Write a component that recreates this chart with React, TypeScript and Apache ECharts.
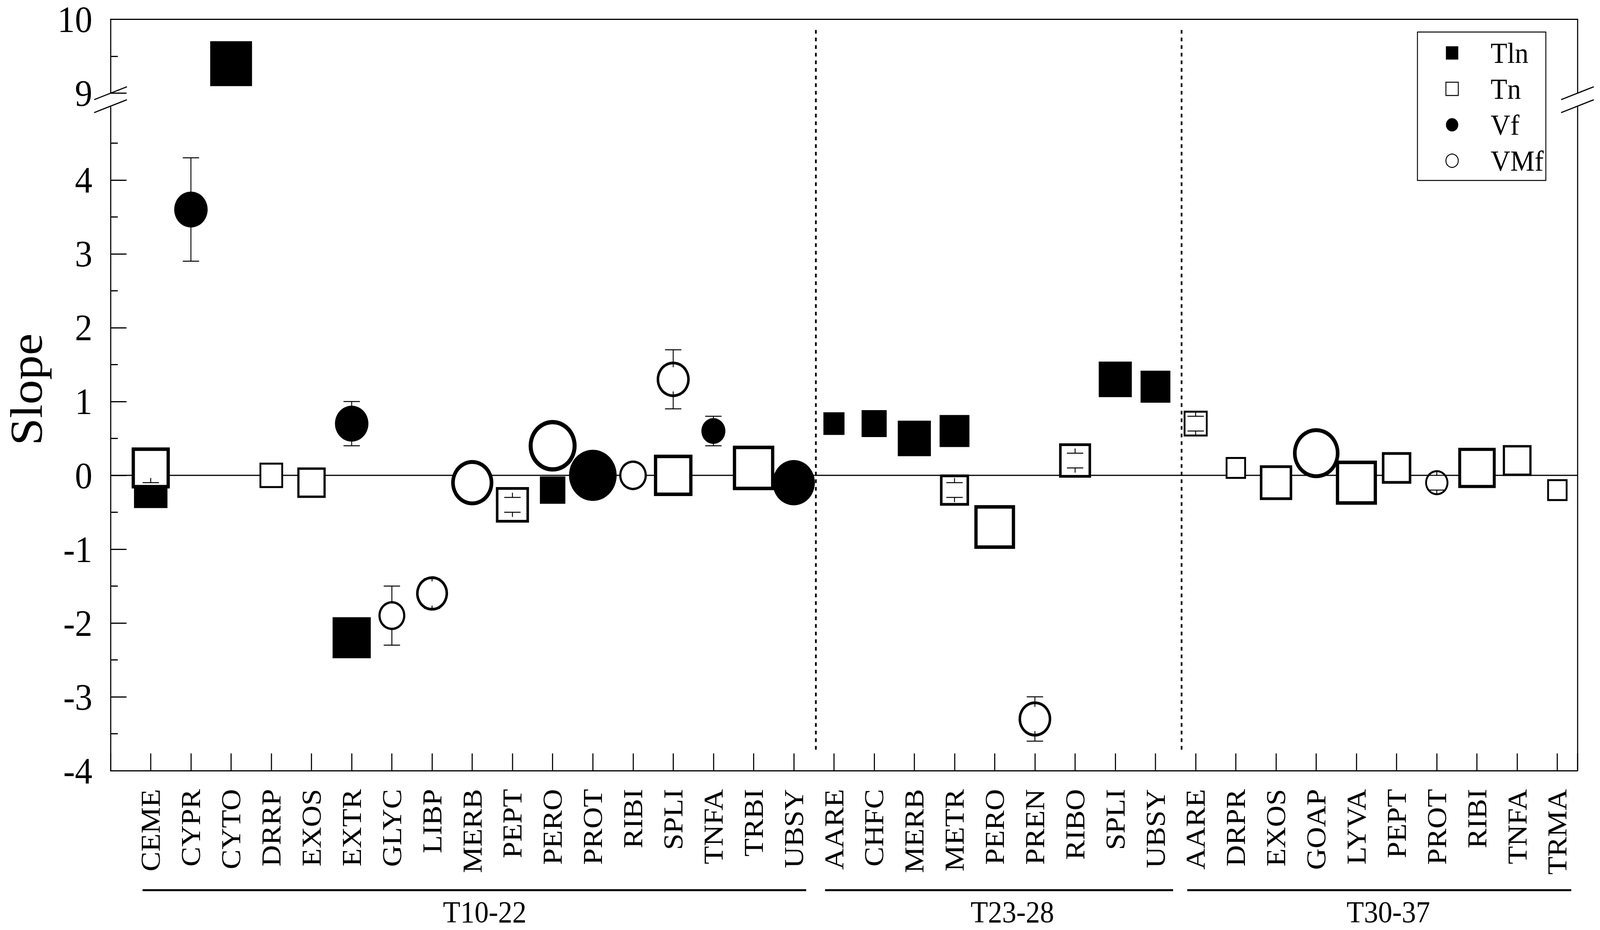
import React, { useEffect, useRef, useState } from 'react';
import * as echarts from 'echarts';

// ---------------- data ----------------
const N = null;

const CATEGORIES = [
  // T10-22
  'CEME', 'CYPR', 'CYTO', 'DRRP', 'EXOS', 'EXTR', 'GLYC', 'LIBP', 'MERB', 'PEPT', 'PERO', 'PROT', 'RIBI', 'SPLI', 'TNFA', 'TRBI', 'UBSY',
  // T23-28
  'AARE', 'CHFC', 'MERB', 'METR', 'PERO', 'PREN', 'RIBO', 'SPLI', 'UBSY',
  // T30-37
  'AARE', 'DRPR', 'EXOS', 'GOAP', 'LYVA', 'PEPT', 'PROT', 'RIBI', 'TNFA', 'TRMA',
];

const GROUP_NAMES = ['T10-22', 'T23-28', 'T30-37'];
const SEPARATORS = [16.55, 25.65];

// Tln (filled squares)
const TLN_SLOPE = [
  -0.2, N, 9.4, N, N, -2.2, N, N, N, N, -0.2, N, N, N, N, N, N,
  0.7, 0.7, 0.5, 0.6, N, N, N, 1.3, 1.2,
  N, N, N, N, N, N, N, N, N, N,
];
const TLN_SIZE = [
  92, N, 115, N, N, 105, N, N, N, N, 70, N, N, N, N, N, N,
  58, 69, 91, 82, N, N, N, 91, 82,
  N, N, N, N, N, N, N, N, N, N,
];
const TLN_ERR = [
  0.1, N, N, N, N, N, N, N, N, N, N, N, N, N, N, N, N,
  N, N, N, N, N, N, N, N, N,
  N, N, N, N, N, N, N, N, N, N,
];

// Tn (open squares)
const TN_SLOPE = [
  0.1, N, N, 0.0, -0.1, N, N, N, N, -0.4, N, N, N, 0.0, N, 0.1, N,
  N, N, N, -0.2, -0.7, N, 0.2, N, N,
  0.7, 0.1, -0.1, N, -0.1, 0.1, N, 0.1, 0.2, -0.2,
];
const TN_SIZE = [
  105, N, N, 65, 78, N, N, N, N, 91, N, N, N, 106, N, 114, N,
  N, N, N, 80, 112, N, 88, N, N,
  66, 56, 89, N, 113, 81, N, 103, 79, 56,
];
const TN_ERR = [
  N, N, N, N, N, N, N, N, N, 0.1, N, N, N, N, N, N, N,
  N, N, N, 0.1, N, N, 0.1, N, N,
  0.1, N, N, N, N, N, N, N, N, N,
];

// Vf (filled circles)
const VF_SLOPE = [
  N, 3.6, N, N, N, 0.7, N, N, N, N, N, 0.0, N, N, 0.6, N, -0.1,
  N, N, N, N, N, N, N, N, N,
  N, N, N, N, N, N, N, N, N, N,
];
const VF_SIZE = [
  N, 92, N, N, N, 92, N, N, N, N, N, 131, N, N, 66, N, 116,
  N, N, N, N, N, N, N, N, N,
  N, N, N, N, N, N, N, N, N, N,
];
const VF_ERR = [
  N, 0.7, N, N, N, 0.3, N, N, N, N, N, N, N, N, 0.2, N, N,
  N, N, N, N, N, N, N, N, N,
  N, N, N, N, N, N, N, N, N, N,
];

// VMf (open circles)
const VMF_SLOPE = [
  N, N, N, N, N, N, -1.9, -1.6, -0.1, N, 0.4, N, 0.0, 1.3, N, N, N,
  N, N, N, N, N, -3.3, N, N, N,
  N, N, N, 0.3, N, N, -0.1, N, N, N,
];
const VMF_SIZE = [
  N, N, N, N, N, N, 74, 88, 116, N, 132, N, 76, 91, N, N, N,
  N, N, N, N, N, 90, N, N, N,
  N, N, N, 128, N, N, 64, N, N, N,
];
const VMF_ERR = [
  N, N, N, N, N, N, 0.4, 0.2, N, N, N, N, N, 0.4, N, N, N,
  N, N, N, N, N, 0.3, N, N, N,
  N, N, N, N, N, N, 0.1, N, N, N,
];

// ---------------- layout ----------------
const W = 4400;
const H = 2381;
const LEFT = 304;
const RIGHT_EDGE = 4338;
const TOP = 49.3;
const Y9 = 238.6;
const Y5 = 271.8;
const BOTTOM = 1973;
const FONT = "'Liberation Serif', 'Times New Roman', serif";
const BLACK = '#000';

const BREAK_Y_TOP = 9;
const X_MIN = -1;
const X_MAX = 35.5;

function borderFor(outer: number) {
  return Math.max(5, Math.round(outer * 0.082));
}

function filledPoints(values: (number | null)[], sizes: (number | null)[], top: boolean) {
  const out: any[] = [];
  values.forEach((v, i) => {
    if (v == null) return;
    if (top !== v >= BREAK_Y_TOP) return;
    out.push({ value: [i, v], symbolSize: sizes[i] as number });
  });
  return out;
}

function openPoints(values: (number | null)[], sizes: (number | null)[]) {
  const out: any[] = [];
  values.forEach((v, i) => {
    if (v == null) return;
    const outer = sizes[i] as number;
    const bw = borderFor(outer);
    out.push({ value: [i, v], symbolSize: outer - bw, itemStyle: { borderWidth: bw } });
  });
  return out;
}

function errPoints() {
  const out: number[][] = [];
  const sets: [(number | null)[], (number | null)[]][] = [
    [TLN_SLOPE, TLN_ERR],
    [TN_SLOPE, TN_ERR],
    [VF_SLOPE, VF_ERR],
    [VMF_SLOPE, VMF_ERR],
  ];
  sets.forEach(([vals, errs]) => {
    vals.forEach((v, i) => {
      const e = errs[i];
      if (v == null || e == null) return;
      out.push([i, v, e]);
    });
  });
  return out;
}

const axisLineStyle = { color: BLACK, width: 3 };

function buildOption(): any {
  return {
    animation: false,
    backgroundColor: '#fff',
    textStyle: { fontFamily: FONT, color: BLACK },
    grid: [
      { left: LEFT, right: W - RIGHT_EDGE, top: TOP, height: Y9 - TOP, outerBoundsMode: 'none', containLabel: false },
      { left: LEFT, right: W - RIGHT_EDGE, top: Y5, bottom: H - BOTTOM, outerBoundsMode: 'none', containLabel: false },
    ],
    xAxis: [
      {
        gridIndex: 0, type: 'value', min: X_MIN, max: X_MAX, position: 'top',
        axisLine: { show: true, onZero: false, lineStyle: axisLineStyle },
        axisTick: { show: false }, axisLabel: { show: false }, splitLine: { show: false },
      },
      {
        gridIndex: 1, type: 'value', min: X_MIN, max: X_MAX, interval: 1, position: 'bottom',
        axisLine: { show: true, onZero: false, lineStyle: axisLineStyle },
        axisTick: { show: true, inside: true, length: 44, lineStyle: { color: BLACK, width: 3 } },
        axisLabel: {
          show: true, rotate: 90, margin: 47, fontSize: 76, fontFamily: FONT, color: BLACK,
          formatter: (v: number) => (Number.isInteger(v) && v >= 0 && v < CATEGORIES.length ? CATEGORIES[v] : ''),
        },
        splitLine: { show: false },
      },
    ],
    yAxis: [
      {
        gridIndex: 0, type: 'value', min: 9, max: 10, interval: 1, position: 'left',
        axisLine: { show: true, onZero: false, lineStyle: axisLineStyle },
        axisTick: { show: true, inside: true, length: 44, lineStyle: { color: BLACK, width: 3 } },
        minorTick: { show: true, splitNumber: 2, length: 20, lineStyle: { color: BLACK, width: 3 } },
        axisLabel: { show: true, margin: 50, fontSize: 96, fontFamily: FONT, color: BLACK },
        splitLine: { show: false },
      },
      {
        gridIndex: 0, type: 'value', min: 9, max: 10, position: 'right',
        axisLine: { show: true, onZero: false, lineStyle: axisLineStyle },
        axisTick: { show: false }, axisLabel: { show: false }, splitLine: { show: false },
      },
      {
        gridIndex: 1, type: 'value', min: -4, max: 5, interval: 1, position: 'left',
        axisLine: { show: true, onZero: false, lineStyle: axisLineStyle },
        axisTick: { show: true, inside: true, length: 44, lineStyle: { color: BLACK, width: 3 } },
        minorTick: { show: true, splitNumber: 2, length: 20, lineStyle: { color: BLACK, width: 3 } },
        axisLabel: {
          show: true, margin: 50, fontSize: 96, fontFamily: FONT, color: BLACK,
          formatter: (v: number) => (v >= 5 ? '' : String(v)),
        },
        splitLine: { show: false },
      },
      {
        gridIndex: 1, type: 'value', min: -4, max: 5, position: 'right',
        axisLine: { show: true, onZero: false, lineStyle: axisLineStyle },
        axisTick: { show: false }, axisLabel: { show: false }, splitLine: { show: false },
      },
    ],
    legend: {
      show: true,
      orient: 'vertical',
      left: 3898,
      top: 82,
      itemWidth: 34,
      itemHeight: 34,
      itemGap: 17,
      padding: [16, 6, 13, 77],
      borderColor: BLACK,
      borderWidth: 2.5,
      selectedMode: false,
      textStyle: { fontSize: 75, fontFamily: FONT, color: BLACK, lineHeight: 75, padding: [0, 0, 0, 84] },
      data: [
        { name: 'Tln', icon: 'rect', itemStyle: { color: BLACK, borderWidth: 0, opacity: 1 } },
        { name: 'Tn', icon: 'rect', itemStyle: { color: '#fff', borderColor: BLACK, borderWidth: 2.5, opacity: 1 } },
        { name: 'Vf', icon: 'circle', itemStyle: { color: BLACK, borderWidth: 0, opacity: 1 } },
        { name: 'VMf', icon: 'circle', itemStyle: { color: '#fff', borderColor: BLACK, borderWidth: 2.5, opacity: 1 } },
      ],
    },
    series: [
      {
        name: 'zero', type: 'line', xAxisIndex: 1, yAxisIndex: 2, z: 1, silent: true,
        data: [[X_MIN, 0], [X_MAX, 0]], symbol: 'none',
        lineStyle: { color: BLACK, width: 3, opacity: 1 },
      },
      {
        name: 'Tln', type: 'scatter', xAxisIndex: 1, yAxisIndex: 2, z: 2, symbol: 'rect',
        itemStyle: { color: BLACK, borderWidth: 0, opacity: 1 }, emphasis: { disabled: true },
        data: filledPoints(TLN_SLOPE, TLN_SIZE, false),
      },
      {
        name: 'Tln', type: 'scatter', xAxisIndex: 0, yAxisIndex: 0, z: 2, symbol: 'rect',
        itemStyle: { color: BLACK, borderWidth: 0, opacity: 1 }, emphasis: { disabled: true },
        data: filledPoints(TLN_SLOPE, TLN_SIZE, true),
      },
      {
        name: 'Tn', type: 'scatter', xAxisIndex: 1, yAxisIndex: 2, z: 3, symbol: 'rect',
        itemStyle: { color: '#fff', borderColor: BLACK, opacity: 1 }, emphasis: { disabled: true },
        data: openPoints(TN_SLOPE, TN_SIZE),
      },
      {
        name: 'Vf', type: 'scatter', xAxisIndex: 1, yAxisIndex: 2, z: 4, symbol: 'circle',
        itemStyle: { color: BLACK, borderWidth: 0, opacity: 1 }, emphasis: { disabled: true },
        data: filledPoints(VF_SLOPE, VF_SIZE, false),
      },
      {
        name: 'VMf', type: 'scatter', xAxisIndex: 1, yAxisIndex: 2, z: 5, symbol: 'circle',
        itemStyle: { color: '#fff', borderColor: BLACK, opacity: 1 }, emphasis: { disabled: true },
        data: openPoints(VMF_SLOPE, VMF_SIZE),
      },
      {
        name: 'errors', type: 'custom', xAxisIndex: 1, yAxisIndex: 2, z: 6, silent: true,
        encode: { x: 0, y: 1 },
        data: errPoints(),
        renderItem: (params: any, api: any) => {
          const x = api.value(0);
          const y = api.value(1);
          const e = api.value(2);
          const c = api.coord([x, y]);
          const t = api.coord([x, y + e]);
          const b = api.coord([x, y - e]);
          const r0 = 31;
          const hw = 22.5;
          const style = { stroke: BLACK, lineWidth: 2.5 };
          return {
            type: 'group',
            children: [
              { type: 'line', shape: { x1: c[0], y1: t[1], x2: c[0], y2: c[1] - r0 }, style },
              { type: 'line', shape: { x1: c[0], y1: b[1], x2: c[0], y2: c[1] + r0 }, style },
              { type: 'line', shape: { x1: c[0] - hw, y1: t[1], x2: c[0] + hw, y2: t[1] }, style },
              { type: 'line', shape: { x1: c[0] - hw, y1: b[1], x2: c[0] + hw, y2: b[1] }, style },
            ],
          };
        },
      },
    ],
  };
}

function buildGraphics(chart: any): any[] {
  const g: any[] = [];
  // Y axis title
  g.push({
    type: 'text', x: 72, y: 997, rotation: Math.PI / 2, z: 100,
    style: { text: 'Slope', fontSize: 126, fontFamily: FONT, fill: BLACK, align: 'center', verticalAlign: 'middle' },
  });
  // hide the tick at the top of the lower segment (break)
  g.push({ type: 'rect', z: 100, shape: { x: LEFT + 1.7, y: Y5 - 3, width: 50, height: 6 }, style: { fill: '#fff' } });
  // break marks
  const dx = 45;
  const dy = 16.5;
  [LEFT, RIGHT_EDGE].forEach((xc) => {
    [Y9, Y5].forEach((yc) => {
      g.push({
        type: 'line', z: 101,
        shape: { x1: xc - dx, y1: yc + dy, x2: xc + dx, y2: yc - dy },
        style: { stroke: BLACK, lineWidth: 3 },
      });
    });
  });
  // dotted separators
  SEPARATORS.forEach((sx) => {
    const pTop = chart.convertToPixel({ xAxisIndex: 0, yAxisIndex: 0 }, [sx, 9.855]);
    const pBot = chart.convertToPixel({ xAxisIndex: 1, yAxisIndex: 2 }, [sx, -3.767]);
    g.push({
      type: 'line', z: 50,
      shape: { x1: pTop[0], y1: pTop[1], x2: pBot[0], y2: pBot[1] },
      style: { stroke: BLACK, lineWidth: 4.7, lineDash: [9.5, 10] },
    });
  });
  // group lines and labels
  const groupLines = [
    [392, 2217, 1333],
    [2269, 3226, 2784],
    [3265, 4321, 3818],
  ];
  groupLines.forEach(([x1, x2, xc], i) => {
    g.push({ type: 'line', z: 100, shape: { x1, y1: 2279, x2, y2: 2279 }, style: { stroke: BLACK, lineWidth: 5 } });
    g.push({
      type: 'text', x: xc, y: 2335, z: 100,
      style: { text: GROUP_NAMES[i], fontSize: 78, fontFamily: FONT, fill: BLACK, align: 'center', verticalAlign: 'middle', lineHeight: 68 },
    });
  });
  return g;
}

export default function App() {
  const ref = useRef<HTMLDivElement>(null);
  const [scale, setScale] = useState<[number, number]>(() => {
    if (typeof window === 'undefined') return [1, 1];
    return [window.innerWidth / W, window.innerHeight / H];
  });

  useEffect(() => {
    const onResize = () => setScale([window.innerWidth / W, window.innerHeight / H]);
    window.addEventListener('resize', onResize);
    return () => window.removeEventListener('resize', onResize);
  }, []);

  useEffect(() => {
    if (!ref.current) return;
    const chart = echarts.init(ref.current, undefined, { renderer: 'svg', width: W, height: H });
    chart.setOption(buildOption());
    chart.setOption({ graphic: { elements: buildGraphics(chart) } });
    return () => {
      chart.dispose();
    };
  }, []);

  return (
    <div style={{ position: 'fixed', left: 0, top: 0, width: '100vw', height: '100vh', overflow: 'hidden', background: '#fff' }}>
      <div
        ref={ref}
        style={{
          position: 'absolute', left: 0, top: 0, width: W, height: H, background: '#fff',
          transform: `scale(${scale[0]}, ${scale[1]})`, transformOrigin: '0 0',
        }}
      />
    </div>
  );
}
